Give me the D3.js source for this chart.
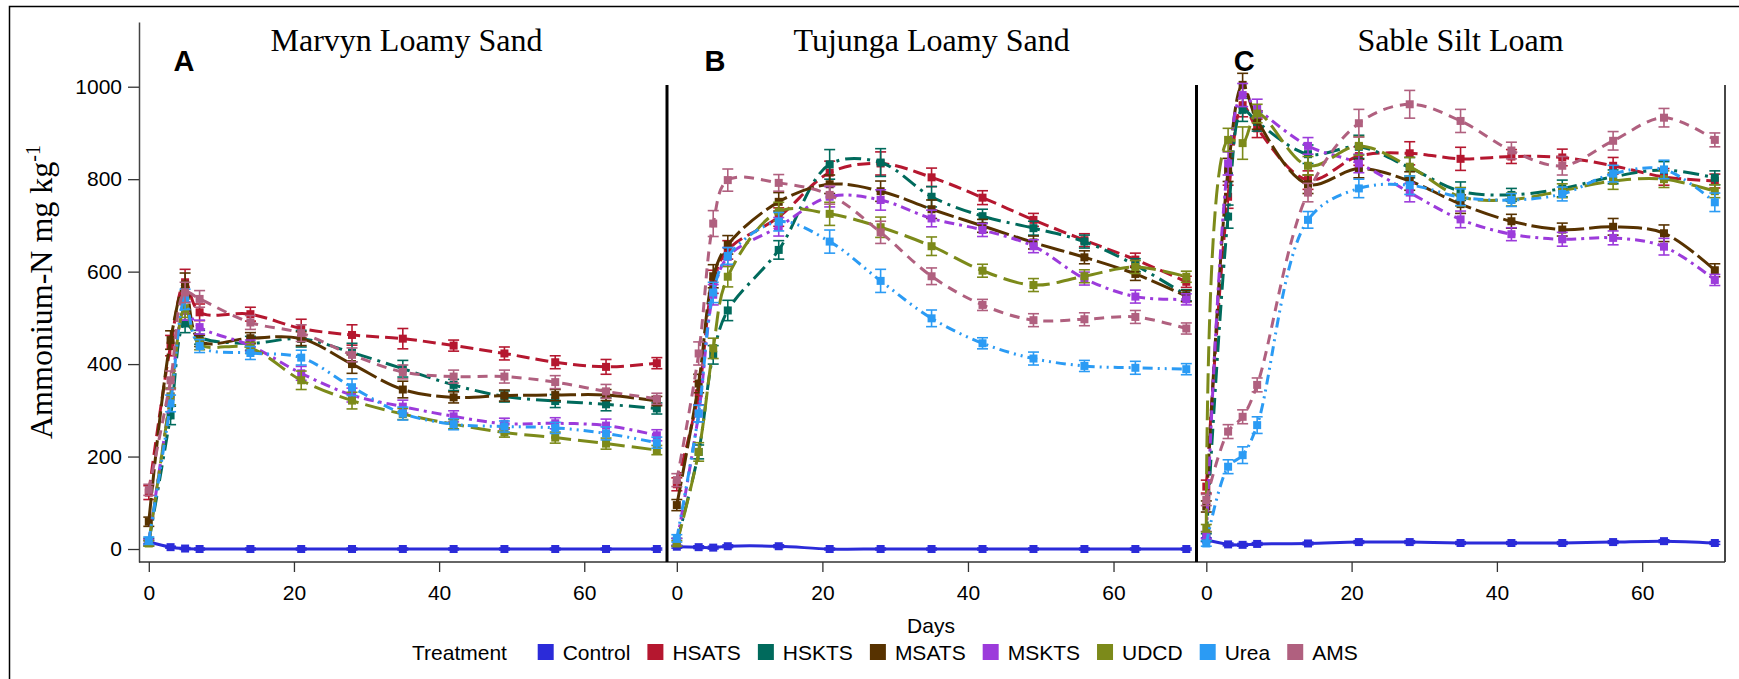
<!DOCTYPE html>
<html>
<head>
<meta charset="utf-8">
<script src="https://cdn.jsdelivr.net/npm/d3@7"></script>
<style>
  body { margin: 0; background: #fff; }
  svg { display: block; }
</style>
</head>
<body>
<svg id="chart" width="1739" height="679"></svg>
<script>
/*------------------------- Data -------------------------*/
const days = [0, 3, 5, 7, 14, 21, 28, 35, 42, 49, 56, 63, 70];
const treatments = ["Control", "HSATS", "HSKTS", "MSATS", "MSKTS", "UDCD", "Urea", "AMS"];
const panelTitles = ["Marvyn Loamy Sand", "Tujunga Loamy Sand", "Sable Silt Loam"];
const panelLetters = ["A", "B", "C"];
const yTicks = [0, 200, 400, 600, 800, 1000];
const xTicks = [0, 20, 40, 60];

// A - Marvyn Loamy Sand
const A_Control = [15, 4, 1, 0, 0, 0, 0, 0, 0, 0, 0, 0, 0];
const A_HSATS   = [122, 440, 577, 512, 508, 477, 463, 455, 440, 423, 404, 394, 402];
const A_HSKTS   = [15, 289, 488, 458, 445, 455, 425, 390, 355, 330, 320, 313, 304];
const A_MSATS   = [59, 452, 572, 450, 456, 455, 400, 345, 328, 332, 333, 333, 320];
const A_MSKTS   = [15, 330, 515, 480, 440, 380, 333, 308, 287, 271, 272, 267, 246];
const A_UDCD    = [12, 330, 521, 443, 435, 365, 321, 292, 270, 252, 241, 228, 214];
const A_Urea    = [18, 315, 540, 439, 424, 414, 350, 293, 270, 265, 262, 250, 230];
const A_AMS     = [128, 365, 555, 541, 490, 467, 420, 383, 373, 373, 361, 341, 325];

const A_Control_se = [3, 2, 2, 2, 2, 2, 2, 2, 2, 2, 2, 2, 2];
const A_HSATS_se   = [15, 22, 28, 18, 15, 20, 22, 22, 12, 14, 14, 16, 12];
const A_HSKTS_se   = [8, 20, 20, 15, 15, 18, 20, 18, 12, 12, 14, 14, 12];
const A_MSATS_se   = [10, 20, 25, 12, 12, 15, 20, 18, 12, 12, 12, 12, 10];
const A_MSKTS_se   = [6, 18, 20, 15, 12, 15, 15, 14, 12, 12, 12, 14, 12];
const A_UDCD_se    = [6, 18, 20, 12, 12, 20, 18, 12, 10, 10, 12, 12, 10];
const A_Urea_se    = [8, 18, 22, 14, 14, 16, 18, 14, 12, 12, 12, 14, 12];
const A_AMS_se     = [12, 20, 22, 18, 15, 18, 15, 15, 14, 14, 14, 15, 12];

// B - Tujunga Loamy Sand
const B_Control = [5, 4, 3, 6, 6, 0, 0, 0, 0, 0, 0, 0, 0];
const B_HSATS   = [140, 337, 578, 647, 718, 814, 834, 804, 760, 712, 668, 626, 578];
const B_HSKTS   = [15, 210, 420, 516, 647, 832, 836, 762, 720, 694, 665, 614, 549];
const B_MSATS   = [95, 358, 590, 658, 751, 789, 774, 735, 699, 663, 631, 595, 547];
const B_MSKTS   = [15, 293, 550, 632, 697, 762, 755, 715, 690, 655, 585, 546, 540];
const B_UDCD    = [12, 210, 434, 589, 730, 725, 696, 655, 602, 571, 590, 610, 589];
const B_Urea    = [23, 293, 555, 634, 708, 665, 580, 499, 445, 412, 396, 392, 389];
const B_AMS     = [149, 423, 704, 798, 792, 766, 685, 590, 528, 495, 497, 502, 477];

const B_Control_se = [3, 3, 3, 3, 3, 2, 2, 2, 2, 2, 2, 2, 2];
const B_HSATS_se   = [14, 25, 25, 20, 20, 25, 25, 20, 15, 14, 14, 14, 12];
const B_HSKTS_se   = [8, 15, 20, 22, 20, 32, 30, 22, 15, 15, 14, 14, 12];
const B_MSATS_se   = [12, 20, 25, 20, 20, 20, 22, 20, 14, 14, 14, 14, 12];
const B_MSKTS_se   = [8, 18, 22, 20, 20, 22, 22, 18, 14, 14, 14, 14, 12];
const B_UDCD_se    = [6, 20, 22, 22, 20, 25, 22, 20, 14, 14, 14, 14, 12];
const B_Urea_se    = [8, 18, 22, 18, 20, 25, 25, 18, 12, 14, 12, 14, 12];
const B_AMS_se     = [14, 25, 28, 24, 18, 20, 24, 18, 12, 14, 14, 14, 12];

// C - Sable Silt Loam
const C_Control = [20, 10, 9, 11, 12, 15, 15, 13, 13, 13, 15, 17, 13];
const C_HSATS   = [135, 762, 960, 910, 798, 850, 856, 844, 849, 847, 829, 805, 796];
const C_HSKTS   = [25, 719, 950, 924, 854, 870, 825, 774, 766, 780, 805, 820, 803];
const C_MSATS   = [92, 820, 1004, 928, 789, 823, 796, 746, 709, 691, 697, 683, 603];
const C_MSKTS   = [30, 834, 982, 953, 872, 834, 771, 713, 681, 670, 673, 654, 582];
const C_UDCD    = [45, 885, 878, 942, 829, 872, 827, 762, 756, 775, 796, 800, 774];
const C_Urea    = [12, 178, 203, 268, 712, 780, 787, 761, 755, 768, 812, 821, 750];
const C_AMS     = [106, 254, 286, 355, 771, 921, 962, 926, 862, 829, 883, 933, 885];

const C_Control_se = [4, 3, 3, 3, 3, 3, 3, 3, 3, 3, 3, 3, 3];
const C_HSATS_se   = [14, 25, 25, 20, 20, 20, 25, 25, 15, 18, 18, 18, 15];
const C_HSKTS_se   = [8, 25, 25, 20, 20, 25, 22, 20, 14, 18, 15, 18, 15];
const C_MSATS_se   = [12, 25, 25, 20, 20, 20, 20, 20, 15, 14, 18, 18, 14];
const C_MSKTS_se   = [8, 25, 25, 20, 18, 20, 20, 18, 14, 15, 15, 18, 12];
const C_UDCD_se    = [8, 25, 35, 20, 20, 20, 20, 20, 14, 15, 18, 18, 14];
const C_Urea_se    = [6, 15, 18, 18, 18, 20, 20, 18, 14, 15, 18, 20, 20];
const C_AMS_se     = [12, 15, 15, 15, 20, 30, 30, 25, 18, 20, 20, 20, 15];

/*------------------------- Styles -----------------------*/
const colors = {
    Control: "#2b2bd9", HSATS: "#b5172f", HSKTS: "#006a5c", MSATS: "#573200",
    MSKTS: "#9c3bdb", UDCD: "#7c8a1a", Urea: "#2b9bf4", AMS: "#b0607f"
};
const dashes = {
    Control: null, HSATS: "13,6", HSKTS: "16,6,3,6", MSATS: "24,5",
    MSKTS: "10,5,3,5", UDCD: "20,7", Urea: "10,5,2,5,2,5", AMS: "10,7"
};

const panels = [
    { values: [A_Control, A_HSATS, A_HSKTS, A_MSATS, A_MSKTS, A_UDCD, A_Urea, A_AMS],
      se: [A_Control_se, A_HSATS_se, A_HSKTS_se, A_MSATS_se, A_MSKTS_se, A_UDCD_se, A_Urea_se, A_AMS_se] },
    { values: [B_Control, B_HSATS, B_HSKTS, B_MSATS, B_MSKTS, B_UDCD, B_Urea, B_AMS],
      se: [B_Control_se, B_HSATS_se, B_HSKTS_se, B_MSATS_se, B_MSKTS_se, B_UDCD_se, B_Urea_se, B_AMS_se] },
    { values: [C_Control, C_HSATS, C_HSKTS, C_MSATS, C_MSKTS, C_UDCD, C_Urea, C_AMS],
      se: [C_Control_se, C_HSATS_se, C_HSKTS_se, C_MSATS_se, C_MSKTS_se, C_UDCD_se, C_Urea_se, C_AMS_se] }
];

/*------------------------- Layout -----------------------*/
const svg = d3.select("#chart");
const sans = "'Liberation Sans', Arial, sans-serif";
const serif = "'Liberation Serif', 'Times New Roman', serif";

const plotTop = 22, plotBottom = 562, frameTop = 85;
const panelEdges = [139, 667, 1196.5, 1725];

const y = d3.scaleLinear().domain([-28.1, 1140]).range([plotBottom, plotTop]);

// outer border (left + top)
svg.append("path")
    .attr("d", "M9.5,679V6.5H1739")
    .attr("fill", "none").attr("stroke", "#000").attr("stroke-width", 1.5);

// y axis
const yAxis = svg.append("g")
    .attr("transform", `translate(${panelEdges[0]},0)`)
    .call(d3.axisLeft(y).tickValues(yTicks).tickFormat(d3.format("d"))
        .tickSize(11).tickSizeOuter(0).tickPadding(6));
yAxis.selectAll("text").attr("font-family", sans).attr("font-size", 21).attr("fill", "#000");
yAxis.selectAll("line").attr("stroke", "#333").attr("stroke-width", 1.3);
yAxis.select(".domain").attr("stroke", "#444").attr("stroke-width", 1.5);

// bottom line
svg.append("line")
    .attr("x1", panelEdges[0]).attr("x2", panelEdges[3])
    .attr("y1", plotBottom).attr("y2", plotBottom)
    .attr("stroke", "#333").attr("stroke-width", 1.5);

// separators and right frame
[1, 2].forEach(i => {
    svg.append("line")
        .attr("x1", panelEdges[i]).attr("x2", panelEdges[i])
        .attr("y1", frameTop).attr("y2", plotBottom)
        .attr("stroke", "#000").attr("stroke-width", 3);
});
svg.append("line")
    .attr("x1", panelEdges[3]).attr("x2", panelEdges[3])
    .attr("y1", frameTop).attr("y2", plotBottom)
    .attr("stroke", "#333").attr("stroke-width", 1.8);

const titleX = [406.5, 931.6, 1460.5];
const letterX = [173.5, 704.6, 1233.8];

panels.forEach((p, pi) => {
    const x = d3.scaleLinear().domain([-1.35, 71.4]).range([panelEdges[pi], panelEdges[pi + 1]]);

    const xAxis = svg.append("g")
        .attr("transform", `translate(0,${plotBottom})`)
        .call(d3.axisBottom(x).tickValues(xTicks).tickSize(10).tickPadding(13));
    xAxis.select(".domain").remove();
    xAxis.selectAll("text").attr("font-family", sans).attr("font-size", 21).attr("fill", "#000");
    xAxis.selectAll("line").attr("stroke", "#333").attr("stroke-width", 1.3);

    // titles
    svg.append("text")
        .attr("x", titleX[pi]).attr("y", 51)
        .attr("text-anchor", "middle")
        .attr("font-family", serif).attr("font-size", 32)
        .text(panelTitles[pi]);
    svg.append("text")
        .attr("x", letterX[pi]).attr("y", 71)
        .attr("font-family", sans).attr("font-weight", "bold").attr("font-size", 29)
        .text(panelLetters[pi]);

    const line = d3.line()
        .x(d => x(d.day))
        .y(d => y(d.v))
        .curve(d3.curveCatmullRom.alpha(0.5));

    treatments.forEach((t, ti) => {
        const pts = days.map((day, k) => ({ day, v: p.values[ti][k], se: p.se[ti][k] }));
        const g = svg.append("g");
        const col = colors[t];

        g.append("path")
            .attr("d", line(pts))
            .attr("fill", "none")
            .attr("stroke", col)
            .attr("stroke-width", 3)
            .attr("stroke-dasharray", dashes[t]);

        // error bars
        const eb = g.selectAll(".eb").data(pts).join("g").attr("stroke", col).attr("stroke-width", 1.6);
        eb.append("line")
            .attr("x1", d => x(d.day)).attr("x2", d => x(d.day))
            .attr("y1", d => y(d.v - d.se)).attr("y2", d => y(d.v + d.se));
        eb.append("line")
            .attr("x1", d => x(d.day) - 5.5).attr("x2", d => x(d.day) + 5.5)
            .attr("y1", d => y(d.v - d.se)).attr("y2", d => y(d.v - d.se));
        eb.append("line")
            .attr("x1", d => x(d.day) - 5.5).attr("x2", d => x(d.day) + 5.5)
            .attr("y1", d => y(d.v + d.se)).attr("y2", d => y(d.v + d.se));

        // markers
        g.selectAll("rect").data(pts).join("rect")
            .attr("x", d => x(d.day) - 4).attr("y", d => y(d.v) - 4)
            .attr("width", 8).attr("height", 8)
            .attr("fill", col);
    });
});

// y label
svg.append("text")
    .attr("transform", "translate(52,292) rotate(-90)")
    .attr("text-anchor", "middle")
    .attr("font-family", serif).attr("font-size", 32)
    .text("Ammonium-N mg kg")
    .append("tspan")
    .attr("dy", -12).attr("font-size", 20)
    .text("-1");

// x label
svg.append("text")
    .attr("x", 931).attr("y", 633)
    .attr("text-anchor", "middle")
    .attr("font-family", sans).attr("font-size", 21)
    .text("Days");

/*------------------------- Legend -----------------------*/
const legend = svg.append("g").attr("font-family", sans).attr("font-size", 21);
legend.append("text").attr("x", 412).attr("y", 660).text("Treatment");
let cur = 537.7;
treatments.forEach(t => {
    legend.append("rect")
        .attr("x", cur).attr("y", 644).attr("width", 16).attr("height", 16)
        .attr("fill", colors[t]);
    const txt = legend.append("text").attr("x", cur + 25).attr("y", 660).text(t);
    cur += 25 + txt.node().getComputedTextLength() + 17;
});
</script>
</body>
</html>
